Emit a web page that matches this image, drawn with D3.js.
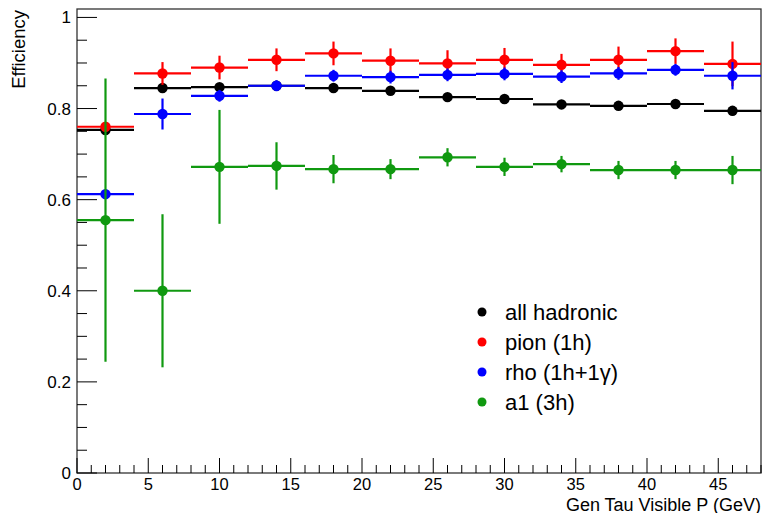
<!DOCTYPE html>
<html>
<head>
<meta charset="utf-8">
<script src="https://cdn.jsdelivr.net/npm/d3@7"></script>
<style>
  html, body { margin: 0; padding: 0; background: #fff; }
  svg { display: block; font-family: "Liberation Sans", Arial, Helvetica, sans-serif; }
</style>
</head>
<body>
<svg id="chart" width="763" height="513"></svg>
<script>
// Bin centres (GeV) and half width of each momentum bin
const binCenters = [2, 6, 10, 14, 18, 22, 26, 30, 34, 38, 42, 46];
const binHalfWidth = 2;

// Efficiency per decay mode and its uncertainty
const allHadronic    = [0.753, 0.845, 0.847, 0.850, 0.845, 0.839, 0.825, 0.821, 0.809, 0.806, 0.810, 0.795];
const allHadronicErr = [0.006, 0.006, 0.006, 0.006, 0.006, 0.006, 0.006, 0.006, 0.006, 0.006, 0.006, 0.010];
const pion           = [0.760, 0.877, 0.890, 0.907, 0.921, 0.905, 0.899, 0.907, 0.896, 0.907, 0.926, 0.898];
const pionErr        = [0.010, 0.025, 0.026, 0.025, 0.026, 0.027, 0.029, 0.026, 0.024, 0.029, 0.028, 0.049];
const rho            = [0.612, 0.788, 0.828, 0.850, 0.872, 0.869, 0.874, 0.876, 0.870, 0.877, 0.885, 0.872];
const rhoErr         = [0.010, 0.034, 0.013, 0.012, 0.013, 0.014, 0.014, 0.014, 0.014, 0.014, 0.013, 0.030];
const a1             = [0.555, 0.400, 0.672, 0.674, 0.667, 0.667, 0.693, 0.672, 0.678, 0.665, 0.665, 0.665];
const a1Err          = [0.311, 0.168, 0.125, 0.052, 0.031, 0.022, 0.020, 0.020, 0.018, 0.020, 0.020, 0.031];

const seriesNames  = ["all hadronic", "pion (1h)", "rho (1h+1\u03B3)", "a1 (3h)"];
const seriesColors = ["#000000", "#ff0000", "#0000ff", "#109910"];

const xTickValues = [0, 5, 10, 15, 20, 25, 30, 35, 40, 45];
const yTickValues = [0, 0.2, 0.4, 0.6, 0.8, 1];
const xTitle = "Gen Tau Visible P (GeV)";
const yTitle = "Efficiency";

const series = [
  { name: seriesNames[0], color: seriesColors[0], vals: allHadronic, errs: allHadronicErr },
  { name: seriesNames[1], color: seriesColors[1], vals: pion,        errs: pionErr },
  { name: seriesNames[2], color: seriesColors[2], vals: rho,         errs: rhoErr },
  { name: seriesNames[3], color: seriesColors[3], vals: a1,          errs: a1Err }
];

const frame = { left: 77, right: 761, top: 9, bottom: 473 };
const svg = d3.select("#chart");

const x = d3.scaleLinear().domain([0, 48]).range([frame.left, frame.right]);
const y = d3.scaleLinear().domain([0, 1.0185]).range([frame.bottom, frame.top]);

// Frame
svg.append("rect")
  .attr("x", frame.left).attr("y", frame.top)
  .attr("width", frame.right - frame.left).attr("height", frame.bottom - frame.top)
  .attr("fill", "none").attr("stroke", "#333").attr("stroke-width", 1.3);

// X axis: major ticks every 5, minor every 1
const xAxisG = svg.append("g");
xAxisG.selectAll("line").data(d3.range(0, 48.01, 1)).join("line")
  .attr("x1", d => x(d)).attr("x2", d => x(d))
  .attr("y1", frame.bottom).attr("y2", d => frame.bottom - (d % 5 === 0 ? 15 : 8))
  .attr("stroke", "#000").attr("stroke-width", 1);
xAxisG.selectAll("text").data(xTickValues).join("text")
  .attr("x", d => x(d)).attr("y", 490)
  .attr("text-anchor", "middle").attr("font-size", 16.5).attr("fill", "#000")
  .text(d => d);

// Y axis: major ticks every 0.2, minor every 0.05
const yAxisG = svg.append("g");
yAxisG.selectAll("line").data(d3.range(0, 21).map(i => i * 0.05)).join("line")
  .attr("x1", frame.left).attr("x2", (d, i) => frame.left + (i % 4 === 0 ? 20 : 10))
  .attr("y1", d => y(d)).attr("y2", d => y(d))
  .attr("stroke", "#000").attr("stroke-width", 1);
yAxisG.selectAll("text").data(yTickValues).join("text")
  .attr("x", 71).attr("y", d => y(d) + 6)
  .attr("text-anchor", "end").attr("font-size", 17).attr("fill", "#000")
  .text(d => d3.format("~g")(d));

// Axis titles
svg.append("text")
  .attr("x", frame.right).attr("y", 510.5)
  .attr("text-anchor", "end").attr("font-size", 18).attr("fill", "#000")
  .text(xTitle);
svg.append("text")
  .attr("transform", `translate(25, ${frame.top + 1}) rotate(-90)`)
  .attr("text-anchor", "end").attr("font-size", 18.5).attr("fill", "#000")
  .text(yTitle);

// Data: horizontal bin-width bars, vertical error bars and markers
const plot = svg.append("g");
series.forEach(s => {
  const g = plot.append("g");
  const pts = binCenters.map((c, i) => ({ c, v: s.vals[i], e: s.errs[i] }));
  g.selectAll("line.h").data(pts).join("line")
    .attr("x1", d => x(d.c - binHalfWidth)).attr("x2", d => x(d.c + binHalfWidth))
    .attr("y1", d => y(d.v)).attr("y2", d => y(d.v))
    .attr("stroke", s.color).attr("stroke-width", 2.2);
  g.selectAll("line.v").data(pts).join("line")
    .attr("x1", d => x(d.c)).attr("x2", d => x(d.c))
    .attr("y1", d => y(d.v - d.e)).attr("y2", d => y(d.v + d.e))
    .attr("stroke", s.color).attr("stroke-width", 2.2);
  g.selectAll("circle").data(pts).join("circle")
    .attr("cx", d => x(d.c)).attr("cy", d => y(d.v)).attr("r", 5.2)
    .attr("fill", s.color);
});

// Legend
const legend = svg.append("g");
series.forEach((s, i) => {
  const yy = 312 + i * 30;
  legend.append("circle").attr("cx", 482).attr("cy", yy).attr("r", 4.5).attr("fill", s.color);
  legend.append("text").attr("x", 505).attr("y", yy + 8)
    .attr("font-size", 22).attr("fill", "#000").text(s.name);
});
</script>
</body>
</html>
